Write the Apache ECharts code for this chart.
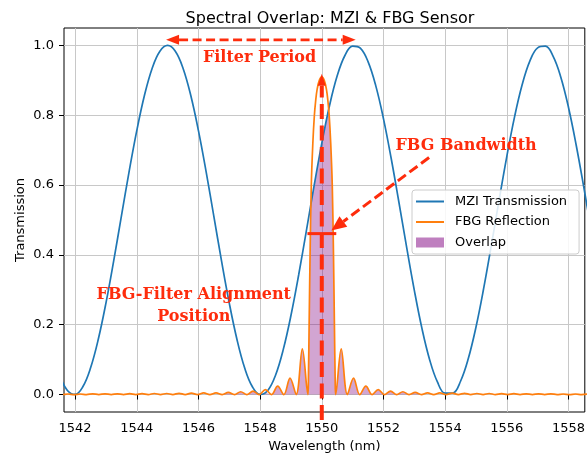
<!DOCTYPE html>
<html><head><meta charset="utf-8">
<script src="https://cdn.jsdelivr.net/npm/echarts@6/dist/echarts.min.js"></script>
<style>html,body{margin:0;padding:0;background:#fff}#c{width:588px;height:458px}</style>
</head><body><div id="c"></div>
<script>
// ---- data ----
const mziWavelength = [1541.25,1541.5,1541.75,1542.0,1542.25,1542.5,1542.75,1543.0,1543.25,1543.5,1543.75,1544.0,1544.25,1544.5,1544.75,1545.0,1545.25,1545.5,1545.75,1546.0,1546.25,1546.5,1546.75,1547.0,1547.25,1547.5,1547.75,1548.0,1548.25,1548.5,1548.75,1549.0,1549.25,1549.5,1549.75,1550.0,1550.25,1550.5,1550.75,1551.0,1551.25,1551.5,1551.75,1552.0,1552.25,1552.5,1552.75,1553.0,1553.25,1553.5,1553.75,1554.0,1554.25,1554.5,1554.75,1555.0,1555.25,1555.5,1555.75,1556.0,1556.25,1556.5,1556.75,1557.0,1557.25,1557.5,1557.75,1558.0,1558.25,1558.5,1558.75,1559.0];
const mziTransmission = [0.1286,0.0554,0.0117,0.0004,0.0223,0.0759,0.1576,0.2620,0.3823,0.5103,0.6377,0.7559,0.8572,0.9347,0.9834,1.0,0.9834,0.9347,0.8572,0.7559,0.6377,0.5103,0.3823,0.2620,0.1576,0.0759,0.0223,0.0004,0.0117,0.0554,0.1286,0.2265,0.3425,0.4690,0.5976,0.7196,0.8272,0.9129,0.9712,0.9983,0.9923,0.9537,0.8849,0.7906,0.6769,0.5516,0.4228,0.2992,0.1887,0.0992,0.0361,0.0038,0.0045,0.0381,0.1024,0.1929,0.3039,0.4279,0.5567,0.6818,0.7947,0.8880,0.9558,0.9932,0.9978,0.9695,0.9099,0.8231,0.7149,0.5925,0.4639,0.3377];

const fbgWavelength = [1541.37,1541.57,1541.77,1541.97,1542.17,1542.37,1542.57,1542.77,1542.97,1543.17,1543.37,1543.57,1543.77,1543.97,1544.17,1544.37,1544.57,1544.77,1544.97,1545.17,1545.37,1545.57,1545.77,1545.97,1546.17,1546.37,1546.57,1546.77,1546.97,1547.17,1547.37,1547.57,1547.77,1547.97,1548.17,1548.37,1548.57,1548.77,1548.97,1549.17,1549.37,1549.55,1549.565,1549.59,1549.62,1549.66,1549.71,1549.76,1549.80,1549.85,1549.92,1550.00,1550.08,1550.15,1550.20,1550.24,1550.29,1550.34,1550.38,1550.41,1550.435,1550.45,1550.63,1550.83,1551.03,1551.23,1551.43,1551.63,1551.83,1552.03,1552.23,1552.43,1552.63,1552.83,1553.03,1553.23,1553.43,1553.63,1553.83,1554.03,1554.23,1554.43,1554.63,1554.83,1555.03,1555.23,1555.43,1555.63,1555.83,1556.03,1556.23,1556.43,1556.63,1556.83,1557.03,1557.23,1557.43,1557.63,1557.83,1558.03,1558.23,1558.43,1558.63];
const fbgReflection = [0.0015,0,0.0015,0,0.0015,0,0.002,0,0.002,0,0.002,0,0.0025,0,0.0025,0,0.003,0,0.003,0,0.0035,0,0.004,0,0.0045,0,0.005,0,0.006,0,0.008,0,0.010,0,0.014,0,0.024,0,0.047,0,0.131,0,0.04,0.20,0.40,0.60,0.72,0.80,0.84,0.875,0.90,0.91,0.90,0.875,0.84,0.80,0.72,0.60,0.40,0.20,0.04,0,0.131,0,0.047,0,0.024,0,0.014,0,0.010,0,0.008,0,0.006,0,0.005,0,0.0045,0,0.004,0,0.0035,0,0.003,0,0.003,0,0.0025,0,0.0025,0,0.002,0,0.002,0,0.002,0,0.0015,0,0.0015,0,0.0015];

const overlapWavelength = [1546.77,1546.97,1547.17,1547.37,1547.57,1547.77,1547.97,1548.17,1548.37,1548.57,1548.77,1548.97,1549.17,1549.37,1549.55,1549.565,1549.59,1549.62,1549.64,1549.66,1549.71,1549.76,1549.80,1549.85,1549.92,1550.00,1550.08,1550.15,1550.20,1550.22,1550.24,1550.29,1550.34,1550.38,1550.41,1550.435,1550.45,1550.63,1550.83,1551.03,1551.23,1551.43,1551.63,1551.83,1552.03,1552.23,1552.43,1552.63,1552.83,1553.03,1553.23];
const overlapValue = [0,0.006,0,0.008,0,0.010,0,0.0045,0,0.024,0,0.047,0,0.131,0,0.04,0.20,0.40,0.50,0.552,0.577,0.603,0.623,0.648,0.682,0.720,0.756,0.786,0.807,0.815,0.80,0.72,0.60,0.40,0.20,0.04,0,0.131,0,0.047,0,0.024,0,0.014,0,0.010,0,0.008,0,0.006,0];

const xTicks = [1542,1544,1546,1548,1550,1552,1554,1556,1558];
const yTicks = [0,0.2,0.4,0.6,0.8,1.0];
const seriesNames = ['MZI Transmission','FBG Reflection','Overlap'];
const titleText = 'Spectral Overlap: MZI & FBG Sensor';

// annotation anchors in data coordinates
const periodArrow = [[1544.95,1.016],[1551.1,1.016]];
const periodLabel = {text:'Filter Period', at:[1547.98,0.964]};
const bandLabel = {text:'FBG Bandwidth', at:[1554.68,0.711]};
const bandArrow = [[1553.48,0.679],[1550.31,0.47]];
const bandMark = [[1549.535,0.461],[1550.47,0.461]];
const alignLine = [[1550,-0.073],[1550,0.919]];
const alignLabel = {text:'FBG-Filter Alignment\nPosition', at:[1545.85,0.255]};

const zip = (a,b)=>a.map((v,i)=>[v,b[i]]);
const RED = '#fe2c0c';
const FONT = '"DejaVu Sans", sans-serif';

const chart = echarts.init(document.getElementById('c'), null, {renderer:'canvas'});
chart.setOption({
  animation:false,
  backgroundColor:'#fff',
  title:{text:titleText, left:325, top:6, textAlign:'center',
    textStyle:{fontFamily:FONT, fontSize:16, fontWeight:'normal', color:'#000'}},
  grid:{left:64, right:2, top:28, bottom:45, show:true, borderColor:'#000', borderWidth:1, backgroundColor:'transparent'},
  legend:{
    orient:'vertical', left:412, top:190, padding:[5,12,5,4], itemGap:7.5,
    itemWidth:28, itemHeight:10, backgroundColor:'rgba(255,255,255,0.85)',
    borderColor:'#cccccc', borderWidth:1, borderRadius:3,
    textStyle:{fontFamily:FONT, fontSize:13, color:'#000', padding:[0,0,0,6]},
    data:[
      {name:seriesNames[0], icon:'path://M0,0 L28,0 L28,2 L0,2 Z', itemStyle:{color:'#1f77b4'}},
      {name:seriesNames[1], icon:'path://M0,0 L28,0 L28,2 L0,2 Z', itemStyle:{color:'#ff7f0e'}},
      {name:seriesNames[2], icon:'rect', itemStyle:{color:'#bf7fbf'}}
    ]
  },
  xAxis:{type:'value', min:1541.64, max:1558.53,
    name:'Wavelength (nm)', nameLocation:'middle', nameGap:28,
    nameTextStyle:{fontFamily:FONT, fontSize:13, color:'#000'},
    axisLine:{show:false},
    axisTick:{show:true, length:5, inside:false, lineStyle:{color:'#000'}, customValues:xTicks},
    axisLabel:{customValues:xTicks, fontFamily:FONT, fontSize:13, color:'#000', margin:10, formatter:v=>String(Math.round(v))},
    splitLine:{show:true, lineStyle:{color:'#c8c8c8', width:1}}
  },
  yAxis:{type:'value', min:-0.05, max:1.05,
    name:'Transmission', nameLocation:'middle', nameGap:37, nameRotate:90, nameMoveOverlap:false,
    nameTextStyle:{fontFamily:FONT, fontSize:13, color:'#000'},
    axisLine:{show:false},
    axisTick:{show:true, length:5, inside:false, lineStyle:{color:'#000'}, customValues:yTicks},
    axisLabel:{customValues:yTicks, fontFamily:FONT, fontSize:13, color:'#000', margin:10, formatter:v=>v.toFixed(1)},
    splitLine:{show:true, lineStyle:{color:'#c8c8c8', width:1}}
  },
  series:[
    {name:seriesNames[2], type:'line', data:zip(overlapWavelength, overlapValue), smooth:0.35, symbol:'none', z:1,
      itemStyle:{color:'#bf7fbf'}, lineStyle:{width:0, opacity:0},
      areaStyle:{color:'rgba(128,0,128,0.5)', origin:0}},
    {name:seriesNames[0], type:'line', data:zip(mziWavelength, mziTransmission), smooth:0.4, symbol:'none', z:2,
      itemStyle:{color:'#1f77b4'}, lineStyle:{color:'#1f77b4', width:1.7}},
    {name:seriesNames[1], type:'line', data:zip(fbgWavelength, fbgReflection), smooth:0.35, symbol:'none', z:3,
      itemStyle:{color:'#ff7f0e'}, lineStyle:{color:'#ff7f0e', width:1.7}}
  ]
});

function P(p){ return chart.convertToPixel({gridIndex:0}, p); }
function head(tip, from, L, W){
  const dx=tip[0]-from[0], dy=tip[1]-from[1], len=Math.hypot(dx,dy), ux=dx/len, uy=dy/len;
  const bx=tip[0]-ux*L, by=tip[1]-uy*L;
  return {poly:{type:'polygon', z:100, shape:{points:[tip,[bx-uy*W,by+ux*W],[bx+uy*W,by-ux*W]]}, style:{fill:RED}}, base:[bx,by]};
}
function dashed(a,b,w,dash){
  return {type:'line', z:100, shape:{x1:a[0],y1:a[1],x2:b[0],y2:b[1]}, style:{stroke:RED, lineWidth:w, lineDash:dash}};
}
function label(o){
  const p=P(o.at);
  return {type:'text', z:101, x:p[0], y:p[1], style:{text:o.text, fill:RED, font:'bold 16px "DejaVu Serif", serif', align:'center', verticalAlign:'middle', lineHeight:22}};
}
const g=[];
{
  const L=P(periodArrow[0]), R=P(periodArrow[1]);
  const hl=head(L,R,13,5), hr=head(R,L,13,5);
  g.push(dashed(hl.base,hr.base,2.6,[9,4.5]), hl.poly, hr.poly);
}
{
  const B=P(alignLine[0]), T=P(alignLine[1]);
  const h=head(T,B,12,4);
  g.push(dashed(B,h.base,4,[15,6.5]), h.poly);
}
{
  const S=P(bandArrow[0]), E=P(bandArrow[1]);
  const h=head(E,S,15,6.5);
  g.push(dashed(S,h.base,3,[10,4.5]), h.poly);
  const a=P(bandMark[0]), b=P(bandMark[1]);
  g.push({type:'line', z:100, shape:{x1:a[0],y1:a[1],x2:b[0],y2:b[1]}, style:{stroke:RED, lineWidth:3}});
}
g.push(label(periodLabel), label(bandLabel), label(alignLabel));
chart.setOption({graphic:g});
</script></body></html>
